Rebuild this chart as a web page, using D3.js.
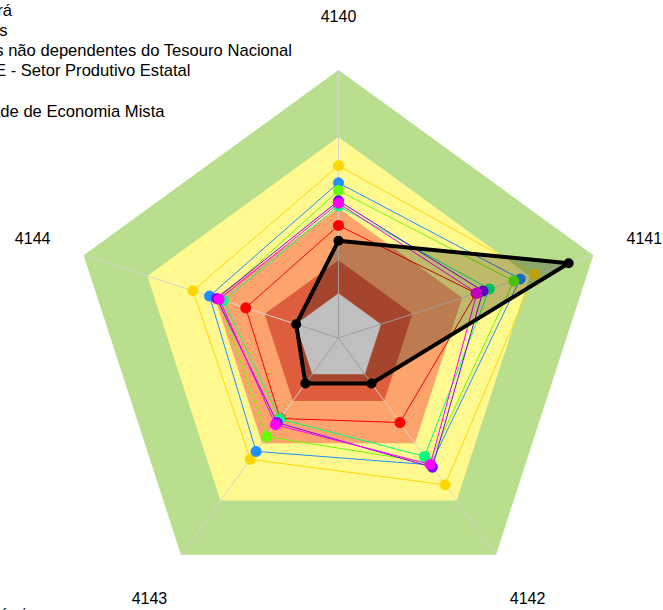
<!DOCTYPE html>
<html>
<head>
<meta charset="utf-8">
<script src="https://cdn.jsdelivr.net/npm/d3@7"></script>
<style>
  html, body { margin: 0; padding: 0; background: #ffffff; }
  svg { display: block; font-family: "Liberation Sans", Arial, sans-serif; }
</style>
</head>
<body>
<svg id="chart" width="663" height="610"></svg>
<script>
// ---------------- data ----------------
const axisLabels = ["4140", "4141", "4142", "4143", "4144"];

// background bands (outer edge, as share of the full radius)
const bandLevels = [1.0, 0.75, 0.485, 0.29, 0.167];
const bandColors = ["#b9df8e", "#fff98f", "#fca46c", "#de5d3c", "#ffffff"];

const seriesNames = [
  "Autarquias",
  "Fundações",
  "Fundos",
  "Empresas dependentes",
  "Empresas não dependentes do Tesouro Nacional",
  "SPE - Setor Produtivo Estatal",
  "Sociedade de Economia Mista",
  "Governo do Estado do Pará"
];
const seriesColors = ["#ffd700", "#1e90ff", "#66ff00", "#ff0000", "#00ff80", "#7f00ff", "#ff00ff", "#000000"];

const gold    = [0.643, 0.770, 0.677, 0.560, 0.571];
const blue    = [0.579, 0.713, 0.585, 0.523, 0.506];
const lime    = [0.550, 0.688, 0.575, 0.455, 0.470];
const red     = [0.420, 0.540, 0.390, 0.371, 0.364];
const spring  = [0.493, 0.592, 0.546, 0.373, 0.452];
const violet  = [0.512, 0.567, 0.596, 0.390, 0.478];
const magenta = [0.503, 0.543, 0.583, 0.400, 0.468];
const black   = [0.363, 0.903, 0.210, 0.210, 0.166];
const seriesValues = [gold, blue, lime, red, spring, violet, magenta, black];

// legend (clipped at the left edge in the original)
const legendLabels = [
  "Governo do Estado do Pará",
  "Autarquias e Fundações",
  "Empresas não dependentes do Tesouro Nacional",
  "SPE - Setor Produtivo Estatal",
  "Fundos",
  "Sociedade de Economia Mista"
];
const legendEnds = [12, 7.5, 292, 190.5, -4, 164.5];
const captionText = "Fonte: Elaboração própria";

// ---------------- drawing ----------------
const svg = d3.select("#chart");
const cx = 338.5, cy = 338, R = 268;
const n = axisLabels.length;

const angle = d3.scaleLinear().domain([0, n]).range([-Math.PI / 2, 1.5 * Math.PI]);
const rScale = d3.scaleLinear().domain([0, 1]).range([0, R]);

const pt = (i, v) => [cx + rScale(v) * Math.cos(angle(i)), cy + rScale(v) * Math.sin(angle(i))];
const polyLine = d3.line().curve(d3.curveLinearClosed);

// bands
svg.append("g").selectAll("path")
  .data(bandLevels)
  .join("path")
  .attr("d", lv => polyLine(d3.range(n).map(i => pt(i, lv))))
  .attr("fill", (d, i) => bandColors[i])
  .attr("stroke", "none");

// axis spokes
svg.append("g").selectAll("line")
  .data(d3.range(n))
  .join("line")
  .attr("x1", cx).attr("y1", cy)
  .attr("x2", i => pt(i, 1)[0]).attr("y2", i => pt(i, 1)[1])
  .attr("stroke", "#d3d3d3").attr("stroke-width", 1);

// series
const sg = svg.append("g");
seriesValues.forEach((vals, s) => {
  const isBlack = s === seriesValues.length - 1;
  const pts = vals.map((v, i) => pt(i, v));
  sg.append("path")
    .attr("d", polyLine(pts))
    .attr("fill", isBlack ? "rgba(0,0,0,0.25)" : "none")
    .attr("stroke", seriesColors[s])
    .attr("stroke-width", isBlack ? 4 : 1)
    .attr("stroke-linejoin", "round");
  sg.append("g").selectAll("circle")
    .data(pts)
    .join("circle")
    .attr("cx", d => d[0]).attr("cy", d => d[1])
    .attr("r", isBlack ? 5 : 5.5)
    .attr("fill", seriesColors[s]);
});

// axis labels
svg.append("g").selectAll("text")
  .data(axisLabels)
  .join("text")
  .attr("x", (d, i) => pt(i, 1.2)[0])
  .attr("y", (d, i) => pt(i, 1.2)[1])
  .attr("text-anchor", "middle")
  .attr("dominant-baseline", "central")
  .attr("font-size", 16)
  .attr("fill", "#000")
  .text(d => d);

// legend
svg.append("g").selectAll("text")
  .data(legendLabels)
  .join("text")
  .attr("x", (d, i) => legendEnds[i])
  .attr("y", (d, i) => 15.5 + i * 20.3)
  .attr("text-anchor", "end")
  .attr("font-size", 16.6)
  .attr("fill", "#000")
  .text(d => d);

// caption (cut by the bottom edge)
svg.append("text")
  .attr("x", -150).attr("y", 620)
  .attr("font-size", 16)
  .attr("fill", "#000")
  .text(captionText);
</script>
</body>
</html>
